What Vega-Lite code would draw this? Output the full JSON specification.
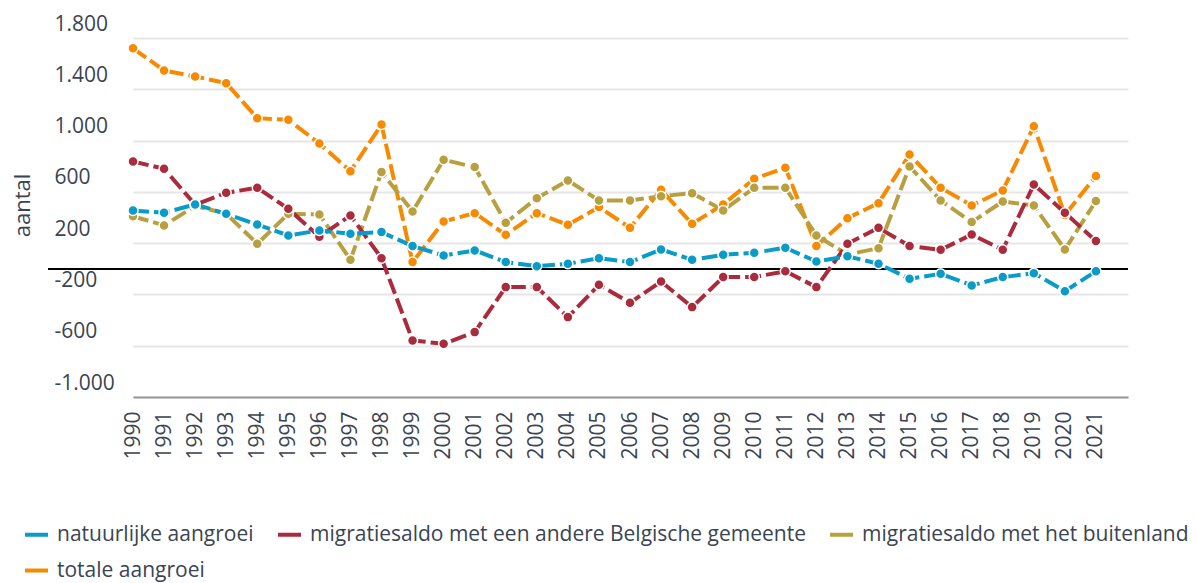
{
  "$schema": "https://vega.github.io/schema/vega-lite/v6.json",
  "width": 1080,
  "height": 359,
  "autosize": {"type": "none"},
  "padding": {"left": 48, "top": 38, "right": 67, "bottom": 186},
  "background": "white",
  "config": {
    "view": {"stroke": null},
    "font": "Open Sans",
    "locale": {"number": {"decimal": ",", "thousands": ".", "grouping": [3], "currency": ["€", ""], "minus": "-"}}
  },
  "data": {
    "values": [
      {"jaar": 1990, "nat": 455, "bel": 837, "buit": 410, "tot": 1720},
      {"jaar": 1991, "nat": 437, "bel": 780, "buit": 338, "tot": 1547},
      {"jaar": 1992, "nat": 502, "bel": 500, "buit": 490, "tot": 1500},
      {"jaar": 1993, "nat": 429, "bel": 593, "buit": 430, "tot": 1448},
      {"jaar": 1994, "nat": 345, "bel": 632, "buit": 195, "tot": 1175},
      {"jaar": 1995, "nat": 260, "bel": 468, "buit": 429, "tot": 1162},
      {"jaar": 1996, "nat": 299, "bel": 250, "buit": 424, "tot": 977},
      {"jaar": 1997, "nat": 273, "bel": 416, "buit": 70, "tot": 761},
      {"jaar": 1998, "nat": 286, "bel": 83, "buit": 754, "tot": 1125},
      {"jaar": 1999, "nat": 177, "bel": -559, "buit": 447, "tot": 52},
      {"jaar": 2000, "nat": 104, "bel": -585, "buit": 850, "tot": 369},
      {"jaar": 2001, "nat": 143, "bel": -494, "buit": 793, "tot": 434},
      {"jaar": 2002, "nat": 52, "bel": -143, "buit": 359, "tot": 265},
      {"jaar": 2003, "nat": 20, "bel": -143, "buit": 551, "tot": 434},
      {"jaar": 2004, "nat": 39, "bel": -377, "buit": 689, "tot": 343},
      {"jaar": 2005, "nat": 83, "bel": -125, "buit": 533, "tot": 481},
      {"jaar": 2006, "nat": 52, "bel": -265, "buit": 533, "tot": 320},
      {"jaar": 2007, "nat": 151, "bel": -99, "buit": 566, "tot": 616},
      {"jaar": 2008, "nat": 70, "bel": -299, "buit": 590, "tot": 351},
      {"jaar": 2009, "nat": 109, "bel": -65, "buit": 455, "tot": 502},
      {"jaar": 2010, "nat": 125, "bel": -65, "buit": 632, "tot": 702},
      {"jaar": 2011, "nat": 164, "bel": -19, "buit": 632, "tot": 788},
      {"jaar": 2012, "nat": 57, "bel": -143, "buit": 260, "tot": 178},
      {"jaar": 2013, "nat": 98, "bel": 195, "buit": 110, "tot": 395},
      {"jaar": 2014, "nat": 39, "bel": 320, "buit": 161, "tot": 512},
      {"jaar": 2015, "nat": -78, "bel": 177, "buit": 798, "tot": 892},
      {"jaar": 2016, "nat": -39, "bel": 148, "buit": 533, "tot": 632},
      {"jaar": 2017, "nat": -130, "bel": 267, "buit": 364, "tot": 494},
      {"jaar": 2018, "nat": -65, "bel": 148, "buit": 525, "tot": 611},
      {"jaar": 2019, "nat": -34, "bel": 657, "buit": 494, "tot": 1112},
      {"jaar": 2020, "nat": -175, "bel": 437, "buit": 151, "tot": 420},
      {"jaar": 2021, "nat": -19, "bel": 216, "buit": 528, "tot": 723}
    ]
  },
  "transform": [
    {"fold": ["tot", "buit", "bel", "nat"], "as": ["code", "waarde"]},
    {"lookup": "code", "from": {"data": {"values": [
      {"code": "nat", "reeks": "natuurlijke aangroei"},
      {"code": "bel", "reeks": "migratiesaldo met een andere Belgische gemeente"},
      {"code": "buit", "reeks": "migratiesaldo met het buitenland"},
      {"code": "tot", "reeks": "totale aangroei"}
    ]}, "key": "code", "fields": ["reeks"]}}
  ],
  "layer": [
    {
      "mark": {"type": "rule", "color": "black", "strokeWidth": 1.5},
      "encoding": {"y": {"datum": 0, "type": "quantitative"}}
    },
    {
      "mark": {"type": "line", "strokeWidth": 4, "strokeDash": [16, 5]},
      "encoding": {
        "x": {
          "field": "jaar", "type": "ordinal",
          "scale": {"type": "point", "range": [85, 1080], "padding": 0.516, "align": 0},
          "axis": {
            "labelAngle": -90, "labelFontSize": 21, "labelColor": "#3a4452",
            "labelPadding": 14, "ticks": false, "grid": false, "domainColor": "#999999",
            "domainWidth": 2, "title": null, "labelOverlap": false
          }
        },
        "y": {
          "field": "waarde", "type": "quantitative",
          "scale": {"domain": [-1000, 1800], "nice": false},
          "axis": {
            "values": [-1000, -600, -200, 200, 600, 1000, 1400, 1800],
            "format": ",d", "title": "aantal", "domain": false, "ticks": false,
            "grid": true, "gridColor": "#e6e6e6", "gridWidth": 2,
            "labelAlign": "left", "labelBaseline": "alphabetic", "labelPadding": -6,
            "labelOffset": -8, "labelFontSize": 21, "labelColor": "#3a4452",
            "titleFontSize": 22, "titleFontWeight": "normal", "titleColor": "#3a4452",
            "titleX": -26, "titleY": 167, "titleAlign": "center", "titleBaseline": "middle",
            "labelOverlap": false
          }
        },
        "color": {
          "field": "reeks", "type": "nominal",
          "scale": {
            "domain": ["natuurlijke aangroei", "migratiesaldo met een andere Belgische gemeente", "migratiesaldo met het buitenland", "totale aangroei"],
            "range": ["#0a9bc9", "#a92b3c", "#b8a040", "#f78a00"]
          },
          "legend": {
            "title": null, "orient": "none", "legendX": -25, "legendY": 483, "columns": 3,
            "direction": "horizontal", "symbolType": "stroke", "symbolStrokeWidth": 4,
            "symbolSize": 529, "labelFontSize": 21, "labelColor": "#3a4452", "labelLimit": 1000,
            "columnPadding": 16, "rowPadding": 12, "labelOffset": 7
          }
        }
      }
    },
    {
      "mark": {"type": "point", "filled": true, "size": 100, "stroke": "white", "strokeWidth": 1.5, "opacity": 1},
      "encoding": {
        "x": {"field": "jaar", "type": "ordinal"},
        "y": {"field": "waarde", "type": "quantitative"},
        "color": {"field": "reeks", "type": "nominal", "legend": null}
      }
    }
  ]
}
